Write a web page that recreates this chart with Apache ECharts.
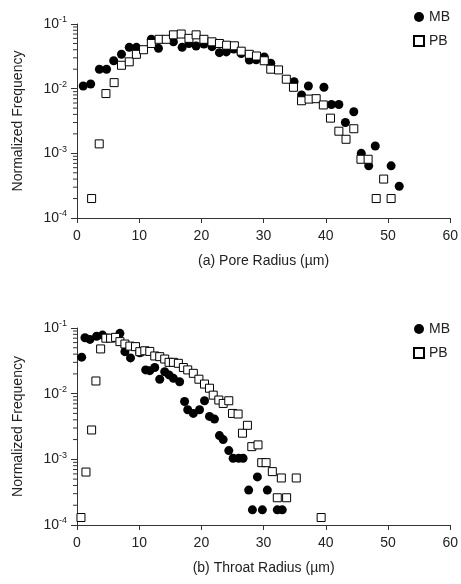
<!DOCTYPE html>
<html><head><meta charset="utf-8">
<script src="https://cdn.jsdelivr.net/npm/echarts@6/dist/echarts.min.js"></script>
<style>html,body{margin:0;padding:0;background:#fff}#c{width:461px;height:584px}</style>
</head><body><div id="c"></div>
<script>
// ---- data (radius µm, normalized frequency) ----
const poreMB = [[1.0,0.011],[2.2,0.0118],[3.6,0.020],[4.75,0.020],[5.9,0.027],[7.15,0.034],[8.4,0.0436],[9.55,0.0436],[11.95,0.058],[13.1,0.042],[15.5,0.053],[16.9,0.0436],[18.0,0.050],[19.15,0.0457],[20.4,0.049],[21.7,0.0446],[22.9,0.036],[24.0,0.037],[25.2,0.041],[26.4,0.035],[27.7,0.0278],[28.8,0.028],[30.1,0.031],[31.15,0.0247],[34.9,0.0128],[36.1,0.008],[37.2,0.011],[39.7,0.0105],[40.9,0.0057],[42.1,0.0057],[43.15,0.003],[44.5,0.0044],[45.7,0.001],[46.9,0.00064],[47.95,0.0013],[50.5,0.00064],[51.8,0.00031]];
const porePB = [[2.35,0.0002],[3.57,0.0014],[4.65,0.0084],[5.97,0.0124],[7.15,0.023],[8.4,0.026],[9.55,0.034],[10.7,0.040],[11.95,0.050],[13.2,0.058],[14.35,0.058],[15.5,0.068],[16.75,0.070],[18.0,0.060],[19.15,0.068],[20.4,0.058],[21.7,0.053],[22.9,0.050],[24.05,0.047],[25.3,0.046],[26.4,0.038],[27.7,0.034],[28.85,0.032],[30.1,0.027],[31.15,0.020],[32.4,0.0195],[33.65,0.014],[34.8,0.0105],[36.1,0.0065],[37.3,0.0069],[38.45,0.007],[39.6,0.0056],[40.75,0.0035],[42.1,0.0022],[43.25,0.00165],[44.5,0.0024],[45.65,0.00081],[46.8,0.00081],[48.1,0.0002],[49.3,0.0004],[50.5,0.0002]];
const throatMB = [[0.75,0.036],[1.28,0.071],[2.08,0.067],[3.15,0.075],[4.1,0.078],[6.9,0.083],[7.7,0.0436],[8.6,0.035],[10.1,0.042],[11.04,0.023],[11.7,0.0224],[12.5,0.025],[13.3,0.0166],[14.1,0.0216],[14.8,0.0193],[15.5,0.0171],[16.5,0.0152],[17.3,0.0076],[17.8,0.0057],[18.7,0.005],[19.7,0.0057],[20.5,0.0078],[21.3,0.0045],[22.1,0.0041],[22.9,0.0023],[23.5,0.002],[24.4,0.00136],[25.1,0.00104],[26.0,0.00104],[26.7,0.00104],[27.6,0.00034],[28.2,0.00017],[29.0,0.00054],[29.8,0.00017],[30.6,0.00034],[32.2,0.00017],[33.0,0.00017]];
const throatPB = [[0.64,0.00013],[1.44,0.00064],[2.35,0.0028],[3.04,0.0156],[3.8,0.048],[4.64,0.070],[5.4,0.070],[6.2,0.072],[6.9,0.062],[7.7,0.057],[8.5,0.053],[9.4,0.052],[10.1,0.0436],[10.9,0.045],[11.7,0.044],[12.5,0.0375],[13.3,0.0366],[14.1,0.0337],[14.8,0.030],[15.5,0.030],[16.3,0.029],[17.1,0.025],[17.8,0.023],[18.7,0.0204],[19.6,0.0166],[20.5,0.014],[21.3,0.0121],[21.9,0.0095],[22.8,0.008],[23.5,0.0071],[24.4,0.0078],[25.0,0.005],[25.9,0.0049],[26.6,0.0025],[27.4,0.0033],[28.1,0.00156],[29.1,0.00166],[29.7,0.00089],[30.4,0.00089],[31.4,0.00065],[32.2,0.00026],[32.85,0.00052],[33.7,0.00026],[35.25,0.00052],[39.25,0.00013]];
const seriesNames = ['MB','PB'];
const xTitles = ['(a) Pore Radius (µm)','(b) Throat Radius (µm)'];
const yTitle = 'Normalized Frequency';
const minorMultipliers = [2,3,4,5,6,7,8,9];
const minorDecades = [1e-4,1e-3,1e-2];

const minorTickValues = [];
minorDecades.forEach(d => minorMultipliers.forEach(m => minorTickValues.push([0, m*d])));

const txt = '#222';
const font = 'Liberation Sans';
function yLabel(v){
  const e = Math.round(Math.log10(v));
  return '{b|10}{s|' + e + '}';
}
const grids = [
  {left:77, top:24, width:375, height:194},
  {left:77, top:328, width:375, height:197}
];
const xAxes = grids.map((g,i)=>({
  type:'value', gridIndex:i, min:0, max:60, interval:10,
  axisLine:{lineStyle:{color:'#333',width:1}},
  axisTick:{show:true,length:5,lineStyle:{color:'#333'}},
  axisLabel:{color:txt,fontSize:14,fontFamily:font,margin:11},
  splitLine:{show:false},
  name:xTitles[i], nameLocation:'middle', nameGap:36,
  nameTextStyle:{color:txt,fontSize:14,fontFamily:font}
}));
const yAxes = grids.map((g,i)=>({
  type:'log', gridIndex:i, logBase:10, min:1e-4, max:1e-1,
  axisLine:{show:true,lineStyle:{color:'#333',width:1}},
  axisTick:{show:true,length:6,lineStyle:{color:'#333'}},
  axisLabel:{color:txt,fontFamily:font,margin:10,formatter:yLabel,
    rich:{b:{fontSize:14,color:txt,fontFamily:font},s:{fontSize:9,color:txt,fontFamily:font,verticalAlign:'top',padding:[0,0,8,0]}}},
  splitLine:{show:false},
  name:yTitle, nameLocation:'middle', nameGap:52,
  nameTextStyle:{color:txt,fontSize:14,fontFamily:font}
}));
function minorSeries(i){
  return {type:'custom', xAxisIndex:i, yAxisIndex:i, silent:true, clip:false, z:5,
    data:minorTickValues,
    renderItem:(params,api)=>{
      const p = api.coord([0, api.value(1)]);
      return {type:'line', shape:{x1:p[0]-4,y1:p[1],x2:p[0],y2:p[1]}, style:{stroke:'#333',lineWidth:1}};
    }};
}
function mb(i,data){
  return {name:'MB',type:'scatter',xAxisIndex:i,yAxisIndex:i,data:data,symbol:'circle',symbolSize:9,
    itemStyle:{color:'#000',opacity:1},z:2};
}
function pb(i,data){
  return {name:'PB',type:'scatter',xAxisIndex:i,yAxisIndex:i,data:data,symbol:'rect',symbolSize:8,
    itemStyle:{color:'#fff',borderColor:'#000',borderWidth:1,opacity:1},z:3};
}
const legends = [5, 317].map(t=>({
  orient:'vertical', left:408, top:t, itemGap:10, itemWidth:10, itemHeight:10,
  data:[{name:'MB',icon:'circle'},{name:'PB',icon:'rect'}],
  textStyle:{color:txt,fontSize:14,fontFamily:font}, selectedMode:false
}));
const chart = echarts.init(document.getElementById('c'), null, {renderer:'canvas'});
chart.setOption({
  animation:false, backgroundColor:'#fff',
  grid:grids, xAxis:xAxes, yAxis:yAxes, legend:legends,
  series:[mb(0,poreMB),pb(0,porePB),mb(1,throatMB),pb(1,throatPB),minorSeries(0),minorSeries(1)]
});
</script></body></html>
